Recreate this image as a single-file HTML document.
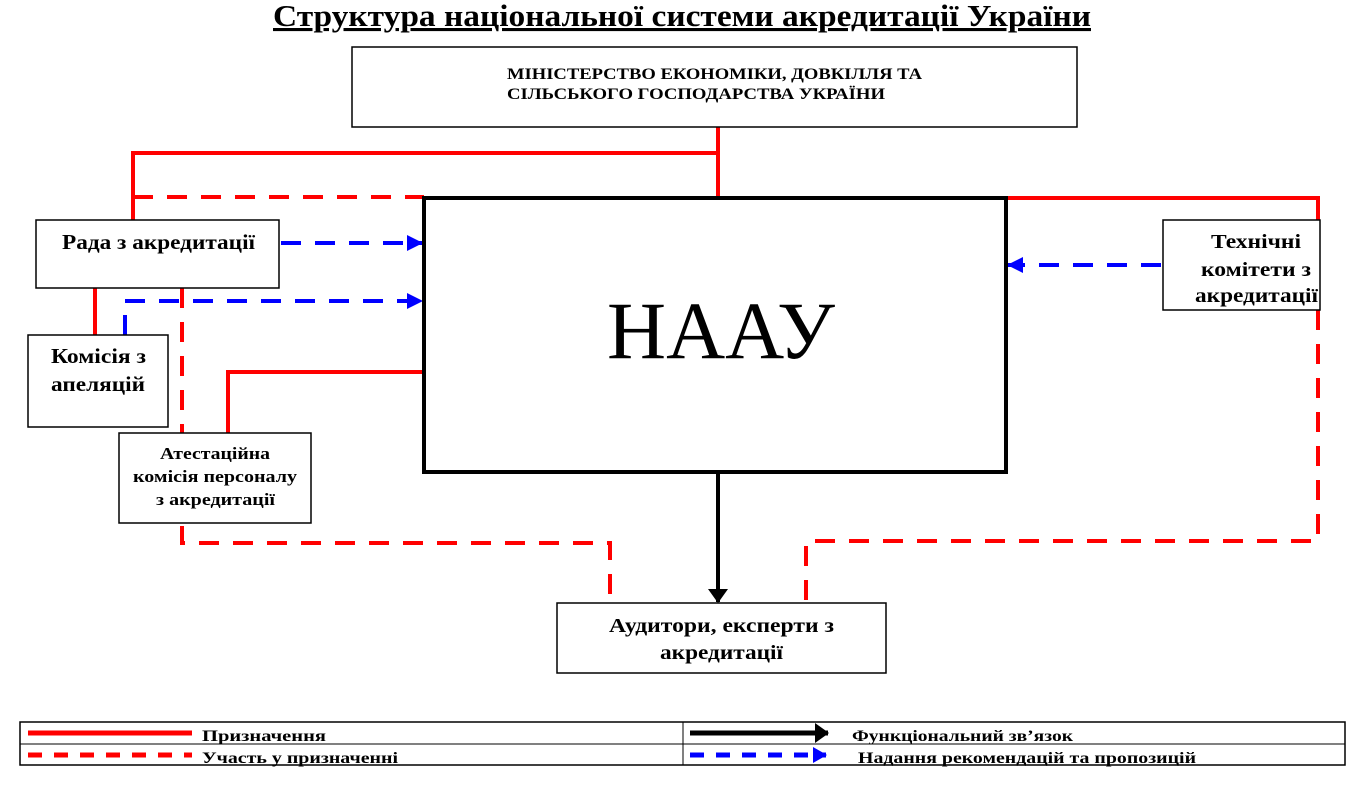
<!DOCTYPE html>
<html><head><meta charset="utf-8"><style>
body{margin:0;background:#fff;width:1368px;height:788px;overflow:hidden}
svg{display:block}
text{font-family:"Liberation Serif",serif;font-weight:bold;fill:#000}
</style></head><body>
<svg width="1368" height="788" viewBox="0 0 1368 788">
<defs>
<marker id="bl" markerWidth="16" markerHeight="16" refX="15" refY="8" orient="auto" markerUnits="userSpaceOnUse"><path d="M0,0 L16,8 L0,16 z" fill="#0000ff"/></marker>
<marker id="bk" markerWidth="14" markerHeight="20" refX="13" refY="10" orient="auto" markerUnits="userSpaceOnUse"><path d="M0,0 L14,10 L0,20 z" fill="#000"/></marker>
<marker id="bl2" markerWidth="14" markerHeight="16" refX="13" refY="8" orient="auto" markerUnits="userSpaceOnUse"><path d="M0,0 L14,8 L0,16 z" fill="#0000ff"/></marker>
</defs>
<text x="273" y="26" font-size="31" textLength="818" lengthAdjust="spacingAndGlyphs" text-decoration="underline">Структура національної системи акредитації України</text>

<g fill="none" stroke="#ff0000" stroke-width="4">
<polyline points="718,127 718,198"/>
<polyline points="718,153 133,153 133,220"/>
<polyline points="1006,198 1318,198 1318,220"/>
<line x1="95" y1="288" x2="95" y2="335"/>
<polyline points="424,372 228,372 228,433"/>
</g>
<g fill="none" stroke="#ff0000" stroke-width="4" stroke-dasharray="20,14">
<line x1="133" y1="197" x2="424" y2="197"/>
<polyline points="182,288 182,543 610,543 610,603"/>
<polyline points="1318,310 1318,541 806,541 806,603"/>
</g>
<g fill="none" stroke="#0000ff" stroke-width="4" stroke-dasharray="20,14">
<line x1="281" y1="243" x2="422" y2="243" marker-end="url(#bl)"/>
<polyline points="125,335 125,301 422,301" marker-end="url(#bl)"/>
<line x1="1161" y1="265" x2="1008" y2="265" marker-end="url(#bl)"/>
</g>
<line x1="718" y1="472" x2="718" y2="602" stroke="#000" stroke-width="4" marker-end="url(#bk)"/>

<g fill="#fff" stroke="#000" stroke-width="1.5">
<rect x="352" y="47" width="725" height="80"/>
<rect x="36" y="220" width="243" height="68"/>
<rect x="28" y="335" width="140" height="92"/>
<rect x="119" y="433" width="192" height="90"/>
<rect x="1163" y="220" width="157" height="90"/>
<rect x="557" y="603" width="329" height="70"/>
</g>
<rect x="424" y="198" width="582" height="274" fill="#fff" stroke="#000" stroke-width="4"/>

<text x="507" y="79" font-size="16" textLength="415" lengthAdjust="spacingAndGlyphs">МІНІСТЕРСТВО ЕКОНОМІКИ, ДОВКІЛЛЯ ТА</text>
<text x="507" y="99" font-size="16" textLength="378" lengthAdjust="spacingAndGlyphs">СІЛЬСЬКОГО ГОСПОДАРСТВА УКРАЇНИ</text>
<text x="607" y="358" font-size="82" textLength="228" lengthAdjust="spacingAndGlyphs" style="font-weight:normal">НААУ</text>
<text x="62" y="249" font-size="21" textLength="193" lengthAdjust="spacingAndGlyphs">Рада з акредитації</text>
<text x="51" y="363" font-size="21" textLength="95" lengthAdjust="spacingAndGlyphs">Комісія з</text>
<text x="51" y="391" font-size="21" textLength="94" lengthAdjust="spacingAndGlyphs">апеляцій</text>
<text x="160" y="459" font-size="17" textLength="110" lengthAdjust="spacingAndGlyphs">Атестаційна</text>
<text x="133" y="482" font-size="17" textLength="164" lengthAdjust="spacingAndGlyphs">комісія персоналу</text>
<text x="156" y="505" font-size="17" textLength="119" lengthAdjust="spacingAndGlyphs">з акредитації</text>
<text x="1211" y="248" font-size="20" textLength="90" lengthAdjust="spacingAndGlyphs">Технічні</text>
<text x="1201" y="276" font-size="20" textLength="110" lengthAdjust="spacingAndGlyphs">комітети з</text>
<text x="1195" y="302" font-size="20" textLength="123" lengthAdjust="spacingAndGlyphs">акредитації</text>
<text x="609" y="632" font-size="20" textLength="225" lengthAdjust="spacingAndGlyphs">Аудитори, експерти з</text>
<text x="660" y="659" font-size="20" textLength="123" lengthAdjust="spacingAndGlyphs">акредитації</text>

<g stroke="#000" fill="none">
<rect x="20" y="722" width="1325" height="43" stroke-width="1.5"/>
<line x1="20" y1="744" x2="1345" y2="744" stroke-width="1"/>
<line x1="683" y1="722" x2="683" y2="765" stroke-width="1"/>
</g>
<line x1="28" y1="733" x2="192" y2="733" stroke="#ff0000" stroke-width="5"/>
<line x1="28" y1="755" x2="192" y2="755" stroke="#ff0000" stroke-width="5" stroke-dasharray="14,12"/>
<line x1="690" y1="733" x2="828" y2="733" stroke="#000" stroke-width="5" marker-end="url(#bk)"/>
<line x1="690" y1="755" x2="826" y2="755" stroke="#0000ff" stroke-width="5" stroke-dasharray="14,12" marker-end="url(#bl2)"/>
<text x="202" y="741" font-size="16" textLength="124" lengthAdjust="spacingAndGlyphs">Призначення</text>
<text x="202" y="763" font-size="16" textLength="196" lengthAdjust="spacingAndGlyphs">Участь у призначенні</text>
<text x="852" y="741" font-size="16" textLength="221" lengthAdjust="spacingAndGlyphs">Функціональний зв’язок</text>
<text x="858" y="763" font-size="16" textLength="338" lengthAdjust="spacingAndGlyphs">Надання рекомендацій та пропозицій</text>
</svg>
</body></html>
